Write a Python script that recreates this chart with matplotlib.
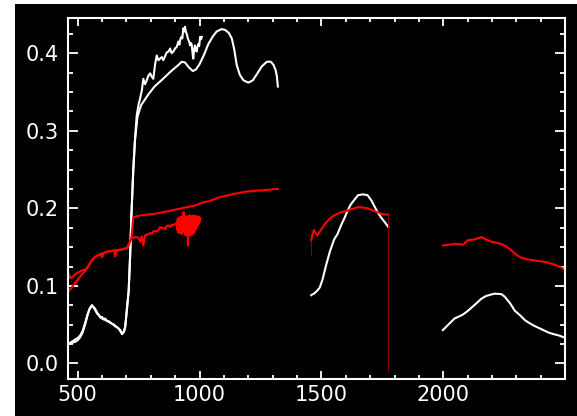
import matplotlib
matplotlib.use('Agg')
import matplotlib.pyplot as plt
from matplotlib.ticker import MultipleLocator, FormatStrFormatter
from matplotlib.patches import Rectangle

# smooth reflectance spectrum, first band (nm, value)
wl_a = [460, 470, 480, 490, 500, 510, 520, 530, 540, 548, 558, 570, 586, 600, 620, 641,
        655, 668, 682, 690, 695, 702, 709, 715, 720, 728, 735, 745, 760, 790, 815, 850,
        880, 910, 927, 940, 955, 972, 985, 1000, 1018, 1036, 1055, 1070, 1090, 1105,
        1120, 1132, 1142, 1152, 1165, 1180, 1200, 1218, 1235, 1255, 1276, 1292, 1303,
        1312, 1317, 1321]
white_a = [0.025, 0.026, 0.027, 0.028, 0.030, 0.034, 0.040, 0.050, 0.062, 0.070, 0.075,
           0.071, 0.062, 0.058, 0.055, 0.051, 0.048, 0.045, 0.038, 0.042, 0.048, 0.070,
           0.094, 0.140, 0.190, 0.250, 0.288, 0.318, 0.333, 0.347, 0.357, 0.367, 0.376,
           0.384, 0.389, 0.388, 0.382, 0.377, 0.379, 0.386, 0.398, 0.412, 0.422, 0.428,
           0.431, 0.430, 0.426, 0.419, 0.405, 0.385, 0.372, 0.365, 0.362, 0.365, 0.373,
           0.383, 0.389, 0.389, 0.385, 0.378, 0.370, 0.357]
red_a = [0.118, 0.110, 0.112, 0.115, 0.117, 0.119, 0.120, 0.121, 0.124, 0.128, 0.133,
         0.137, 0.140, 0.142, 0.144, 0.145, 0.146, 0.146, 0.147, 0.148, 0.148, 0.149,
         0.153, 0.158, 0.162, 0.188, 0.189, 0.190, 0.191, 0.192, 0.193, 0.195, 0.197,
         0.199, 0.200, 0.201, 0.202, 0.203, 0.204, 0.206, 0.208, 0.209, 0.211, 0.213,
         0.215, 0.216, 0.217, 0.218, 0.219, 0.219, 0.220, 0.221, 0.222, 0.222, 0.223,
         0.223, 0.224, 0.224, 0.225, 0.225, 0.225, 0.225]

# second band
wl_b = [1458, 1462, 1469, 1476, 1483, 1493, 1504, 1520, 1535, 1552, 1566, 1580, 1595,
        1607, 1620, 1635, 1650, 1670, 1689, 1705, 1720, 1730, 1745, 1760, 1774]
white_b = [0.088, 0.089, 0.090, 0.092, 0.094, 0.098, 0.108, 0.128, 0.145, 0.160, 0.167,
           0.178, 0.188, 0.197, 0.205, 0.211, 0.217, 0.218, 0.217, 0.210, 0.201, 0.195,
           0.188, 0.182, 0.176]
red_b = [0.159, 0.166, 0.172, 0.168, 0.165, 0.170, 0.175, 0.182, 0.187, 0.191, 0.193,
         0.195, 0.196, 0.197, 0.199, 0.200, 0.2015, 0.201, 0.200, 0.198, 0.196, 0.195,
         0.193, 0.192, 0.192]
red_b_low = [0.139, -0.011]   # thin drop lines at start / end of band b

# third band
wl_c = [1998, 2020, 2046, 2060, 2080, 2101, 2130, 2156, 2175, 2197, 2211, 2238, 2252,
        2275, 2293, 2315, 2334, 2348, 2370, 2390, 2417, 2430, 2450, 2475, 2500]
white_c = [0.043, 0.050, 0.058, 0.060, 0.063, 0.068, 0.076, 0.0835, 0.087, 0.089, 0.090,
           0.0894, 0.086, 0.077, 0.068, 0.062, 0.056, 0.053, 0.049, 0.046, 0.042, 0.040,
           0.038, 0.036, 0.033]
red_c = [0.152, 0.153, 0.154, 0.154, 0.153, 0.159, 0.160, 0.163, 0.160, 0.157, 0.156,
         0.154, 0.152, 0.147, 0.1415, 0.137, 0.135, 0.134, 0.133, 0.132, 0.131, 0.130,
         0.128, 0.125, 0.121]

# noisy field spectra (460-1010 nm)
wl_n = [460, 470, 480, 490, 500, 510, 520, 530, 540, 548, 558, 570, 580, 586, 593, 600,
        605, 612, 620, 630, 641, 650, 653, 660, 668, 675, 682, 690, 695, 702, 709, 715,
        720, 728, 735, 742, 749, 756, 763, 769, 776, 783, 790, 797, 803, 810, 817, 824,
        831, 838, 845, 851, 858, 865, 872, 879, 885, 892, 899, 906, 910, 913, 917, 921,
        925, 929, 933, 937, 940, 944, 947, 951, 954, 958, 961, 965, 968, 971, 974, 977,
        981, 984, 988, 991, 995, 998, 1002, 1006, 1009]
white_n = [0.025, 0.027, 0.029, 0.031, 0.033, 0.036, 0.042, 0.052, 0.063, 0.070, 0.075,
           0.070, 0.064, 0.063, 0.059, 0.060, 0.057, 0.058, 0.055, 0.054, 0.051, 0.050,
           0.048, 0.047, 0.045, 0.043, 0.038, 0.041, 0.048, 0.072, 0.094, 0.140, 0.190,
           0.252, 0.290, 0.320, 0.333, 0.342, 0.352, 0.367, 0.360, 0.365, 0.371, 0.374,
           0.370, 0.367, 0.385, 0.397, 0.391, 0.393, 0.395, 0.391, 0.396, 0.401, 0.402,
           0.406, 0.400, 0.402, 0.406, 0.408, 0.412, 0.415, 0.411, 0.418, 0.421, 0.419,
           0.432, 0.428, 0.434, 0.427, 0.425, 0.420, 0.417, 0.414, 0.410, 0.413, 0.410,
           0.400, 0.393, 0.404, 0.410, 0.404, 0.402, 0.408, 0.412, 0.409, 0.421, 0.418,
           0.421]

wl_rn = [460, 470, 480, 490, 500, 510, 520, 530, 540, 548, 558, 570, 580, 586, 593, 600,
         605, 612, 620, 630, 641, 650, 653, 660, 668, 675, 682, 690, 695, 702, 709, 715,
         720, 728, 735, 742, 749, 756, 763, 769, 776, 783, 790, 797, 803, 810, 817, 824,
         831, 838, 845, 851, 858, 865, 872, 879, 885, 892, 899,
         906, 908, 910, 912, 914, 916, 918, 920, 922, 924, 926, 928, 930, 932, 934, 936,
         938, 940, 942, 944, 946, 948, 950, 952, 954, 956, 958, 960, 962, 964, 966, 968,
         970, 972, 974, 976, 978, 980, 982, 984, 986, 988, 990, 992, 994, 996, 998, 1000,
         1003]
red_n = [0.092, 0.096, 0.100, 0.104, 0.108, 0.112, 0.116, 0.119, 0.124, 0.128, 0.133,
         0.137, 0.139, 0.140, 0.141, 0.137, 0.142, 0.143, 0.144, 0.145, 0.145, 0.146,
         0.138, 0.146, 0.146, 0.147, 0.147, 0.148, 0.148, 0.149, 0.153, 0.158, 0.162,
         0.162, 0.163, 0.163, 0.162, 0.157, 0.164, 0.152, 0.165, 0.166, 0.167, 0.168,
         0.167, 0.170, 0.171, 0.170, 0.172, 0.176, 0.174, 0.175, 0.173, 0.177, 0.178,
         0.176, 0.179, 0.178, 0.180,
         0.181, 0.172, 0.186, 0.169, 0.188, 0.171, 0.185, 0.168, 0.189, 0.173, 0.187,
         0.167, 0.190, 0.176, 0.195, 0.170, 0.189, 0.166, 0.188, 0.165, 0.190, 0.168,
         0.186, 0.152, 0.189, 0.167, 0.191, 0.165, 0.188, 0.169, 0.190, 0.166, 0.189,
         0.170, 0.191, 0.168, 0.188, 0.171, 0.190, 0.173, 0.189, 0.175, 0.190, 0.178,
         0.188, 0.180, 0.189, 0.183, 0.187]

xticks_major = 500
yticks_major = 0.1

fig = plt.figure(figsize=(5.77, 4.16), dpi=100, facecolor='white')
# black plotting window, leaves a thin white margin at left / top
fig.patches.append(Rectangle((15 / 577, 0), 1 - 15 / 577, 412 / 416,
                             transform=fig.transFigure, facecolor='black',
                             edgecolor='none', zorder=-10))
ax = fig.add_axes([68 / 577, 37 / 416, 497 / 577, 361.5 / 416])
ax.set_facecolor('black')

lw = 1.5
ax.plot(wl_a, white_a, color='white', lw=lw)
ax.plot(wl_b, white_b, color='white', lw=lw)
ax.plot(wl_c, white_c, color='white', lw=lw)
ax.plot(wl_n, white_n, color='white', lw=lw)
ax.plot(wl_a, red_a, color='red', lw=lw)
ax.plot(wl_b, red_b, color='red', lw=lw)
ax.plot(wl_c, red_c, color='red', lw=lw)
ax.plot(wl_rn, red_n, color='red', lw=lw)
ax.vlines([wl_b[0], wl_b[-1]], red_b_low, [red_b[0], red_b[-1]], color='#8b0000', lw=0.7)

ax.set_xlim(460, 2499)
ax.set_ylim(-0.02, 0.446)

ax.xaxis.set_major_locator(MultipleLocator(xticks_major))
ax.xaxis.set_minor_locator(MultipleLocator(100))
ax.yaxis.set_major_locator(MultipleLocator(yticks_major))
ax.yaxis.set_minor_locator(MultipleLocator(0.025))
ax.yaxis.set_major_formatter(FormatStrFormatter('%.1f'))

for s in ax.spines.values():
    s.set_color('white')
    s.set_linewidth(1.5)
ax.tick_params(which='both', direction='in', colors='white', top=True, right=True,
               labelsize=15, width=1.3)
ax.tick_params(axis='x', which='major', length=5.5, pad=4)
ax.tick_params(axis='x', which='minor', length=3.2)
ax.tick_params(axis='y', which='major', length=7.5, pad=7)
ax.tick_params(axis='y', which='minor', length=3.6)

fig.savefig('out.png', dpi=100, facecolor='white')
